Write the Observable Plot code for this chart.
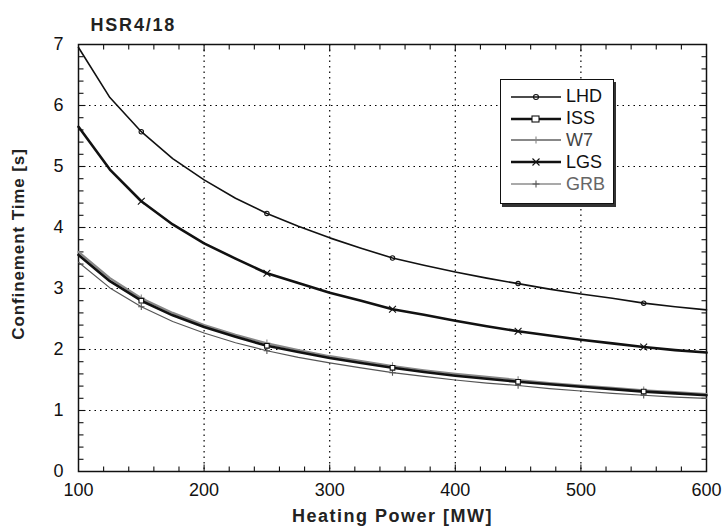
<!DOCTYPE html>
<html><head><meta charset="utf-8">
<script src="https://cdn.jsdelivr.net/npm/d3@7"></script>
<script src="https://cdn.jsdelivr.net/npm/@observablehq/plot@0.6"></script>
<style>
body{margin:0;background:#fff;font-family:"Liberation Sans",Arial,sans-serif;}
#wrap{position:relative;width:724px;height:530px;}
#legend{position:absolute;left:500px;top:79px;width:114px;height:125px;border:1.5px solid #111;box-shadow:2px 3px 0 #333;background:#fff;box-sizing:border-box;padding-top:6px;}
.row{display:flex;align-items:center;height:21.8px;}
.row svg{margin-left:10px;margin-right:5px;}
.row span{font-size:18px;color:#111;}
</style></head>
<body><div id="wrap"><div id="legend"></div></div>
<script>
const power = [100,125,150,175,200,225,250,275,300,325,350,375,400,425,450,475,500,525,550,575,600];
const lhd = [6.95,6.13,5.57,5.13,4.78,4.48,4.23,4.02,3.83,3.66,3.50,3.38,3.27,3.17,3.08,2.99,2.91,2.84,2.76,2.70,2.65];
const iss = [3.55,3.12,2.80,2.56,2.37,2.21,2.06,1.96,1.86,1.78,1.70,1.63,1.57,1.52,1.47,1.43,1.39,1.35,1.31,1.28,1.25];
const w7  = [3.60,3.17,2.84,2.60,2.40,2.24,2.10,1.99,1.89,1.81,1.73,1.66,1.60,1.55,1.50,1.45,1.41,1.37,1.33,1.30,1.27];
const lgs = [5.65,4.95,4.43,4.05,3.74,3.49,3.25,3.09,2.93,2.80,2.66,2.57,2.47,2.38,2.30,2.23,2.16,2.10,2.04,1.99,1.95];
const grb = [3.43,3.01,2.70,2.46,2.27,2.11,1.98,1.87,1.78,1.70,1.62,1.56,1.50,1.45,1.41,1.36,1.32,1.28,1.25,1.22,1.20];
const markerPowers = [150,250,350,450,550];
const xTicks = [100,200,300,400,500,600];
const yTicks = [0,1,2,3,4,5,6,7];
const xMinor = d3.range(120,600,20).filter(v=>v%100!==0);
const yMinor = d3.range(1,35).map(i=>i/5).filter(v=>Math.abs(v-Math.round(v))>1e-6);
const seriesNames = ["LHD","ISS","W7","LGS","GRB"];
const seriesVals = [lhd,iss,w7,lgs,grb];
const styles = {
  LHD:{stroke:"#111",w:1.6,sym:"circle",r:2.2},
  ISS:{stroke:"#111",w:2.6,sym:"square",r:2.6},
  W7:{stroke:"#888",w:2.2,sym:"plus",r:2.6},
  LGS:{stroke:"#111",w:2.6,sym:"times",r:3.2},
  GRB:{stroke:"#555",w:1.2,sym:"plus",r:2.2}
};
const W = 724, H = 530, mL = 78, mR = 18, mT = 44, mB = 59;
const pw = W - mL - mR, ph = H - mT - mB;
const xDom = [100,600], yDom = [0,7];
const minorLen = 5, majorLen = 7;
const pxX = (xDom[1]-xDom[0]) / pw, pxY = (yDom[1]-yDom[0]) / ph;
const tickRows = [
  ...xMinor.map(v=>({v,len:minorLen})), ...xTicks.slice(1,-1).map(v=>({v,len:majorLen}))
];
const tickRowsY = [
  ...yMinor.map(v=>({v,len:minorLen})), ...yTicks.slice(1,-1).map(v=>({v,len:majorLen}))
];
const rows = seriesNames.flatMap((s,i)=>power.map((p,j)=>({series:s,P:p,T:seriesVals[i][j]})));
const tickStyle = {stroke:"#111",strokeWidth:1.1,strokeOpacity:1};
const marks = [
  Plot.gridX(xTicks.slice(1,-1),{stroke:"#000",strokeOpacity:1,strokeDasharray:"1.5,4",strokeWidth:1.2}),
  Plot.gridY(yTicks.slice(1,-1),{stroke:"#000",strokeOpacity:1,strokeDasharray:"1.5,4",strokeWidth:1.2}),
  // inward ticks on all four sides
  Plot.link(tickRows,{x1:"v",x2:"v",y1:()=>yDom[0],y2:d=>yDom[0]+d.len*pxY,...tickStyle}),
  Plot.link(tickRows,{x1:"v",x2:"v",y1:()=>yDom[1],y2:d=>yDom[1]-d.len*pxY,...tickStyle}),
  Plot.link(tickRowsY,{y1:"v",y2:"v",x1:()=>xDom[0],x2:d=>xDom[0]+d.len*pxX,...tickStyle}),
  Plot.link(tickRowsY,{y1:"v",y2:"v",x1:()=>xDom[1],x2:d=>xDom[1]-d.len*pxX,...tickStyle}),
  Plot.frame({stroke:"#111",strokeWidth:1.5}),
  Plot.axisX({ticks:xTicks,tickSize:0,tickPadding:12,fontSize:18,label:null,tickFormat:d3.format("d")}),
  Plot.axisY({ticks:yTicks,tickSize:0,tickPadding:15,fontSize:18,label:null,tickFormat:d3.format("d")})
];
for (const s of ["GRB","W7","ISS","LHD","LGS"]) {
  const st = styles[s];
  const data = rows.filter(d=>d.series===s);
  marks.push(Plot.line(data,{x:"P",y:"T",stroke:st.stroke,strokeWidth:st.w,curve:"linear"}));
  marks.push(Plot.dot(data.filter(d=>markerPowers.includes(d.P)),{x:"P",y:"T",symbol:()=>st.sym,r:st.r,stroke:st.stroke,strokeWidth:1.1,fill:s==="ISS"?"#fff":"none"}));
}
const titleText = "HSR4/18", xLabel = "Heating Power [MW]", yLabel = "Confinement Time [s]";
marks.push(
  Plot.text([titleText],{frameAnchor:"top-left",textAnchor:"start",dx:12,dy:-26,fontSize:18,fontWeight:"bold",fill:"#222"}),
  Plot.text([xLabel],{frameAnchor:"bottom",textAnchor:"middle",dy:50,fontSize:18,fontWeight:"bold",fill:"#222"}),
  Plot.text([yLabel],{frameAnchor:"left",textAnchor:"middle",dx:-60,dy:-14,rotate:-90,fontSize:17,fontWeight:"bold",fill:"#222"})
);
const chart = Plot.plot({
  width:W,height:H,
  marginLeft:mL,marginRight:mR,marginTop:mT,marginBottom:mB,
  style:{fontFamily:"Liberation Sans, Arial, sans-serif",color:"#111",background:"#fff",overflow:"visible"},
  x:{domain:xDom},
  y:{domain:yDom},
  marks
});
document.getElementById("wrap").prepend(chart);
const spacing = {[titleText]:"1.8px",[xLabel]:"1.5px",[yLabel]:"0.9px"};
d3.select(chart).selectAll("text").each(function(){
  const t = this.textContent;
  if (spacing[t]) d3.select(this).style("letter-spacing",spacing[t]);
});
// legend
const leg = document.getElementById("legend");
const symPath = {
  circle:'<circle cx="25" cy="6" r="2.5" fill="none"/>',
  square:'<rect x="21" y="3" width="7" height="6" fill="#fff"/>',
  plus:'<path d="M21.5 6H28.5M25 2.5V9.5" fill="none"/>',
  times:'<path d="M21.5 2.5L28.5 9.5M28.5 2.5L21.5 9.5" fill="none"/>'
};
seriesNames.forEach(s=>{
  const st = styles[s];
  const r = document.createElement("div"); r.className="row";
  r.innerHTML = `<svg width="50" height="12" stroke="${st.stroke}"><line x1="0" y1="6" x2="50" y2="6" stroke-width="${st.w}"/><g stroke-width="1.1">${symPath[st.sym]}</g></svg><span style="color:${s==="GRB"?"#666":(s==="W7"?"#444":"#111")}">${s}</span>`;
  leg.appendChild(r);
});
</script></body></html>
